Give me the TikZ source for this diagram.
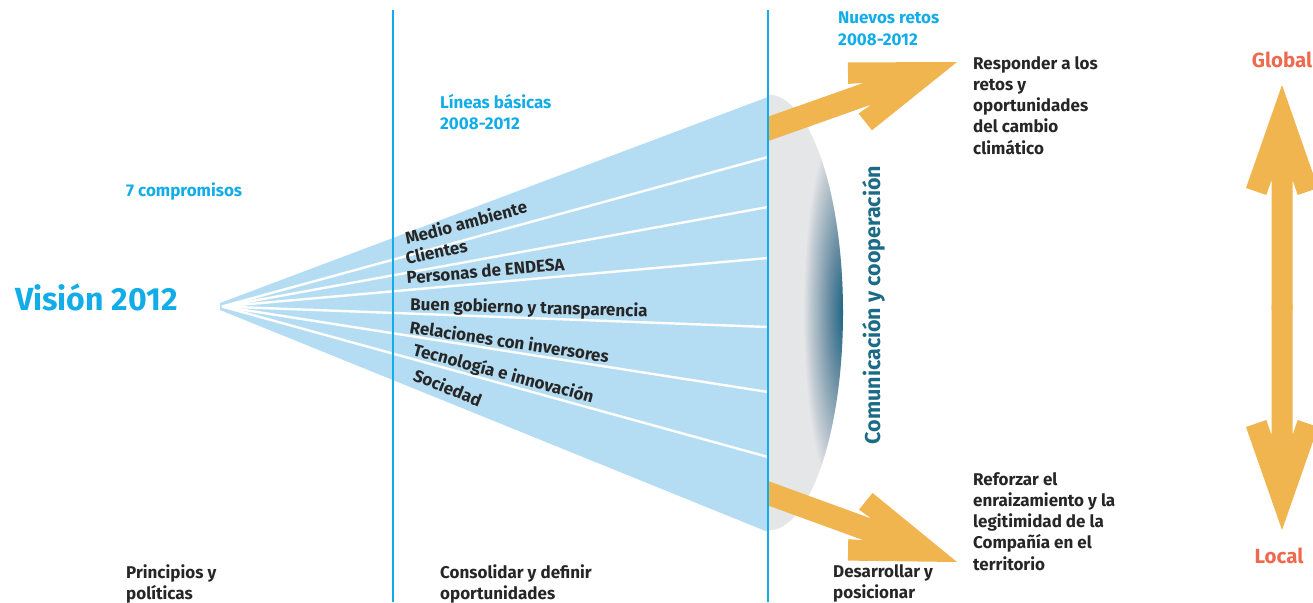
\documentclass[tikz,border=0pt]{standalone}
\usepackage{fontspec}
\setmainfont{Fira Sans}
\definecolor{cyanline}{HTML}{12ADE8}
\definecolor{fanblue}{HTML}{B4DDF3}
\definecolor{lensgrey}{HTML}{E5E6E8}
\definecolor{lensdark}{HTML}{16617F}
\definecolor{lensmid}{HTML}{6A8EA3}
\definecolor{lenslight}{HTML}{C3CCD3}
\definecolor{commteal}{HTML}{1B6A86}
\definecolor{arroworange}{HTML}{F0B54E}
\definecolor{globred}{HTML}{EE6A4E}
\definecolor{darktext}{HTML}{262626}
\pgfdeclareradialshading{lensshade}{\pgfpoint{0bp}{0bp}}{color(0bp)=(lensdark); color(10bp)=(lensmid); color(21bp)=(lenslight); color(25bp)=(lensgrey); color(50bp)=(lensgrey)}
\newcommand{\mylines}[1]{\begin{tabular}[t]{@{}l@{}}#1\end{tabular}}
\newcommand{\fatarrow}[4]{%
  \fill[arroworange,shift={#1},rotate=#2] (0,0) -- (-103,36) -- (-110,15.7) -- (-95,#4) -- (-#3,#4) -- (-#3,-#4) -- (-95,-#4) -- (-110,-15.7) -- (-103,-36) -- cycle;}
\begin{document}
\begin{tikzpicture}[x=1pt,y=-1pt,
  body/.style={font=\fontsize{17}{21.3}\selectfont\bfseries, text=darktext, inner sep=0pt, anchor=base west},
  head/.style={body, text=cyanline},
  fanlbl/.style={font=\fontsize{17}{20}\selectfont\bfseries, text=darktext, inner sep=0pt, anchor=base west},
  sep/.style={white, line width=2.4pt},
  divider/.style={cyanline, line width=2.6pt},
  scalelbl/.style={font=\fontsize{20.5}{24}\selectfont\bfseries, text=globred, inner sep=0pt, anchor=base}]
\useasboundingbox (0,0) rectangle (1313,602);
% fan
\coordinate (apex) at (222,306.5);
\coordinate (f0) at (768,97);
\coordinate (f1) at (768,157);
\coordinate (f2) at (768,207);
\coordinate (f3) at (768,258);
\coordinate (f4) at (768,327);
\coordinate (f5) at (768,392);
\coordinate (f6) at (768,457);
\coordinate (f7) at (768,532);
\fill[fanblue] (220,303) -- (f0) -- (f7) -- (220,310) -- cycle;
\foreach \i in {1,...,6} \draw[sep] (apex) -- (f\i);
% lens
\begin{scope}
  \clip (768,0) rectangle (1313,602);
  \fill[lensgrey] (768,312.5) ellipse (75 and 218);
  \clip (768,312.5) ellipse (75 and 218);
  \shade[shading=lensshade] (845,312) ellipse (42 and 195);
\end{scope}
% diagonal arrows
\begin{scope}
  \clip (768,0) rectangle (1313,602);
  \fatarrow{(957,62)}{19.5}{215}{11.5}
  \fatarrow{(957,562)}{-20}{215}{11.5}
\end{scope}
% global-local arrow
\fatarrow{(1282,85)}{90}{225}{10.5}
\fatarrow{(1282,530)}{-90}{225}{10.5}
% dividers
\coordinate (d1t) at (393,10);
\coordinate (d1b) at (393,602);
\coordinate (d2t) at (768,10);
\coordinate (d2b) at (768,602);
\draw[divider] (d1t) -- (d1b);
\draw[divider] (d2t) -- (d2b);
% texts
\node[head] (nuevos) at (838,24) {\mylines{Nuevos retos\\2008-2012}};
\node[head] (lineas) at (440,108) {\mylines{Líneas básicas\\2008-2012}};
\node[head] (compr) at (126,196) {7 compromisos};
\node[head, font=\fontsize{32}{36}\selectfont\bfseries] (vision) at (15,310) {Visión 2012};
\node[body] (princ) at (126,578) {\mylines{Principios y\\políticas}};
\node[body] (consol) at (440,578) {\mylines{Consolidar y definir\\oportunidades}};
\node[body] (desarr) at (833,577) {\mylines{Desarrollar y\\posicionar}};
\node[body] (resp) at (973,69) {\mylines{Responder a los\\retos y\\oportunidades\\del cambio\\climático}};
\node[body] (refor) at (973,485) {\mylines{Reforzar el\\enraizamiento y la\\legitimidad de la\\Compañía en el\\territorio}};
\node[scalelbl] (global) at (1282,67) {Global};
\node[scalelbl] (local) at (1279,563) {Local};
\node[font=\fontsize{21.5}{24}\selectfont\bfseries, text=commteal, inner sep=0pt, anchor=base, rotate=90] (comm) at (880,305) {Comunicación y cooperación};
% fan labels
\node[fanlbl, rotate=15] (m1) at (407,245) {Medio ambiente};
\node[fanlbl, rotate=12] (m2) at (407,265) {Clientes};
\node[fanlbl, rotate=5] (m3) at (407,284) {Personas de ENDESA};
\node[fanlbl, rotate=-1.7] (m4) at (410,310) {Buen gobierno y transparencia};
\node[fanlbl, rotate=-8.5] (m5) at (409,333) {Relaciones con inversores};
\node[fanlbl, rotate=-15] (m6) at (412,355) {Tecnología e innovación};
\node[fanlbl, rotate=-22] (m7) at (412,380) {Sociedad};
\end{tikzpicture}
\end{document}
